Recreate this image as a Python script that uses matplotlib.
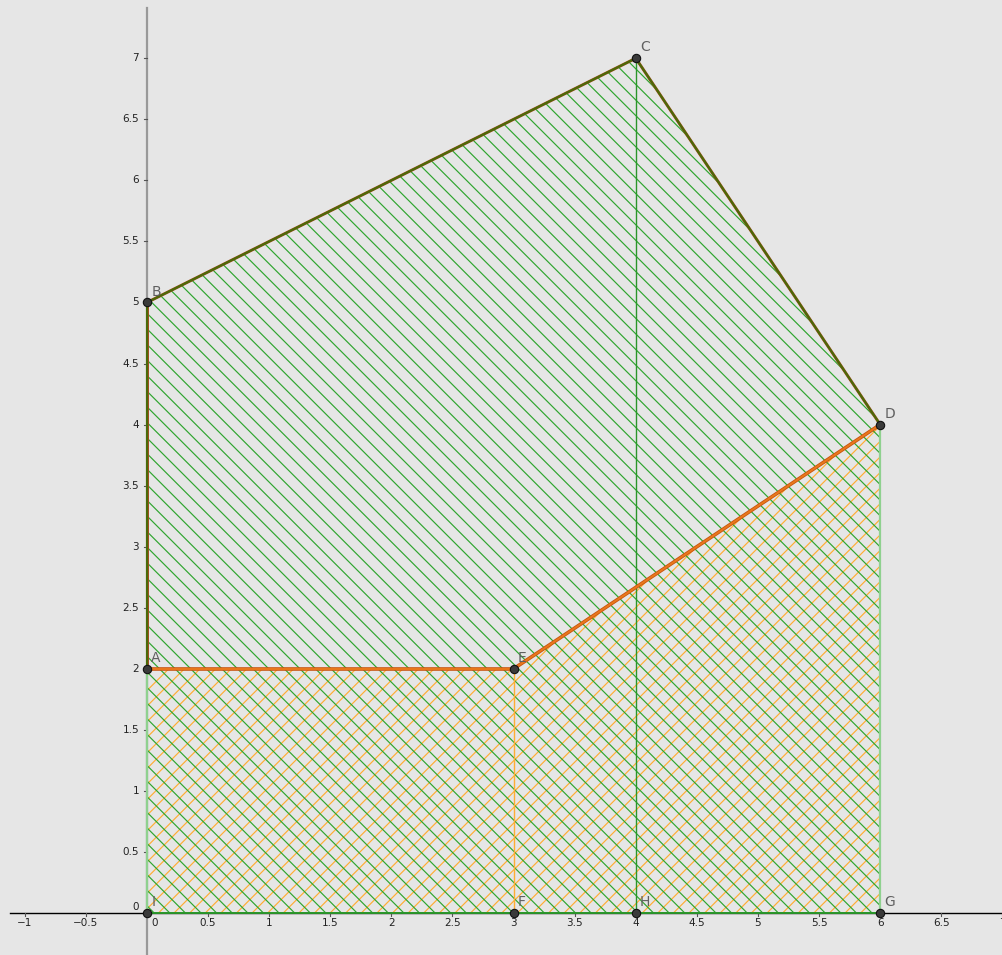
import numpy as np
import matplotlib.pyplot as plt
from matplotlib.patches import Polygon
from matplotlib.collections import LineCollection

# points of the construction
names = ["A", "B", "C", "D", "E", "F", "G", "H", "I"]
px = [0, 0, 4, 6, 3, 3, 6, 4, 0]
py = [2, 5, 7, 4, 2, 0, 0, 0, 0]
pt = {n: (x, y) for n, x, y in zip(names, px, py)}

# regions: green hatch over the whole shape, orange hatch under A-E-D
green_region = ["I", "B", "C", "D", "G"]
orange_region = ["I", "A", "E", "D", "G"]

xticks = np.arange(-1, 7.01, 0.5)
yticks = np.arange(0.5, 7.01, 0.5)

bg = "#e6e6e6"
green = "#2ea52e"
orange = "#ffad33"

fig = plt.figure(figsize=(10.03, 9.55), dpi=100, facecolor=bg)
ax = fig.add_axes([0, 0, 1, 1], facecolor=bg)
ax.set_xlim(-1.203, 7.005)
ax.set_ylim(-0.344, 7.477)


def hatch(region, color, direction, step=0.1277, phase=0.0):
    poly = Polygon([pt[n] for n in region], closed=True, facecolor="none",
                   edgecolor="none", transform=ax.transData)
    ax.add_patch(poly)
    segs = []
    for c in np.arange(-12, 20, step) + phase:
        if direction > 0:  # "/" lines: y = x + c
            segs.append([(-2, -2 + c), (10, 10 + c)])
        else:  # "\" lines: y = -x + c
            segs.append([(-2, 2 + c), (10, -10 + c)])
    lc = LineCollection(segs, colors=color, linewidths=0.85, zorder=2)
    ax.add_collection(lc)
    lc.set_clip_path(poly)


hatch(orange_region, orange, +1, phase=0.03)
hatch(green_region, green, -1, phase=0.055)


def seg(a, b, color, lw, z=3):
    ax.plot([pt[a][0], pt[b][0]], [pt[a][1], pt[b][1]], color=color, lw=lw,
            solid_capstyle="round", zorder=z)


# axes lines
ax.plot([-1.12, 7.005], [0, 0], color="black", lw=1.0, zorder=1)
ax.plot([0, 0], [-0.344, 7.41], color="#999999", lw=1.6, zorder=1)

# outlines
seg("I", "A", "#8fd18f", 1.6)
seg("D", "G", "#8fd18f", 1.6)
seg("I", "G", "#2a962a", 1.4, z=4)
seg("C", "H", "#2a962a", 1.0)
seg("E", "F", orange, 1.0)
for a, b in [("A", "B"), ("B", "C"), ("C", "D")]:
    seg(a, b, "#a04a1a", 2.1)
    seg(a, b, "#4a6a08", 1.5, z=3.1)
for a, b in [("A", "E"), ("E", "D")]:
    seg(a, b, "#c85410", 2.6)
    seg(a, b, "#e9781c", 1.4, z=3.1)

# points and their labels
ax.plot(px, py, "o", ms=6, mfc="#3a3a3a", mec="#111111", mew=0.8, zorder=6)
for n, x, y in zip(names, px, py):
    ax.annotate(n, (x, y), xytext=(3, 5), textcoords="offset points",
                ha="left", va="baseline", fontsize=10, color="#606060", zorder=7)

# ticks
for s in ax.spines.values():
    s.set_visible(False)
xt = [v for v in xticks if abs(v) > 1e-9]
ax.set_xticks([])
ax.set_yticks([])


def fmt(v):
    return f"{v:g}".replace("-", "\u2212")


for v in xt:
    ax.plot([v, v], [0, -0.025], color="#555555", lw=0.8, zorder=1)
    ax.text(v, -0.045, fmt(v), ha="center", va="top", fontsize=7.5, color="#222222")
for v in yticks:
    ax.plot([0, -0.025], [v, v], color="#555555", lw=0.8, zorder=1)
    ax.text(-0.065, v, fmt(v), ha="right", va="center", fontsize=7.5, color="#222222")
ax.text(0.065, -0.045, "0", ha="center", va="top", fontsize=7.5, color="#222222")
ax.text(-0.095, 0.05, "0", ha="center", va="center", fontsize=7.5, color="#222222")

fig.savefig("out.png", dpi=100, facecolor=bg)
